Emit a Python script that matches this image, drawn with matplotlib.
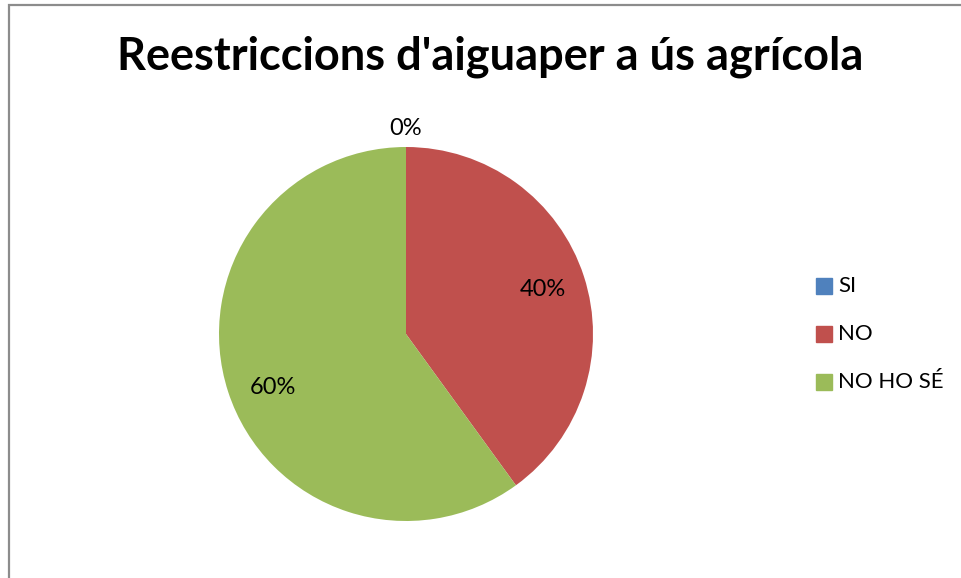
import numpy as np
import matplotlib.pyplot as plt
from matplotlib.patches import Rectangle

# data
categories = ["SI", "NO", "NO HO SÉ"]
values = [0, 40, 60]
colors = ["#4F81BD", "#C0504D", "#9BBB59"]
title = "Reestriccions d'aiguaper a ús agrícola"

plt.rcParams['font.family'] = ['Lato', 'DejaVu Sans']

fig = plt.figure(figsize=(9.61, 5.78), dpi=100)

# chart frame
fig.patches.append(Rectangle((8.5 / 961, -0.1), 1.2, 1 - 5.5 / 578 + 0.1,
                             transform=fig.transFigure, fill=False,
                             edgecolor="#8c8c8c", linewidth=1.6))

cx, cy, r = 406, 334, 187
ax = fig.add_axes([(cx - r) / 961, 1 - (cy + r) / 578, 2 * r / 961, 2 * r / 578])
wedges, _ = ax.pie(values, colors=colors, startangle=90, counterclock=False,
                   radius=1, wedgeprops=dict(linewidth=0))
ax.set_xlim(-1, 1)
ax.set_ylim(-1, 1)
ax.set_aspect('auto')
ax.axis('off')

total = sum(values)
for w, v in zip(wedges, values):
    mid = np.deg2rad((w.theta1 + w.theta2) / 2 + (4 if v == 60 else 0))
    d = 1.1 if v == 0 else 0.77
    ax.text(d * np.cos(mid), d * np.sin(mid), f"{round(100 * v / total)}%",
            ha='center', va='center', fontsize=17, color='black')

fig.text(490 / 961, 1 - 57 / 578, title, ha='center', va='center',
         fontsize=32.5, fontweight='bold')

# legend
for i, (c, lab) in enumerate(zip(colors, categories)):
    y = 1 - (286 + 48 * i) / 578
    fig.patches.append(Rectangle((816 / 961, y - 8 / 578), 16 / 961, 16 / 578,
                                 transform=fig.transFigure, color=c))
    fig.text(838 / 961, y, lab, ha='left', va='center', fontsize=16)

fig.savefig("out.png", dpi=100)
